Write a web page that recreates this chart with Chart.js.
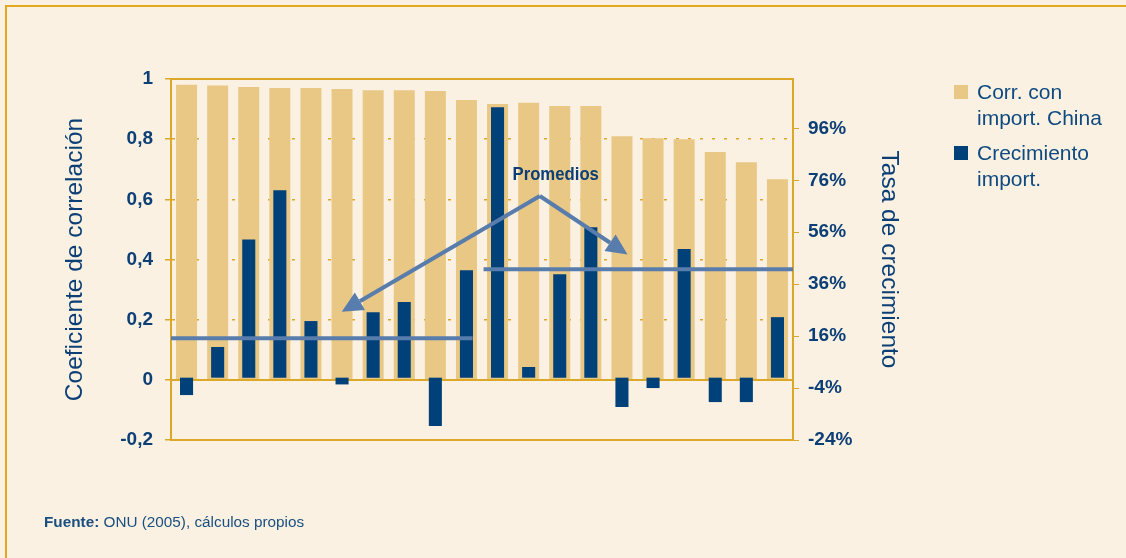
<!DOCTYPE html>
<html>
<head>
<meta charset="utf-8">
<script src="https://cdn.jsdelivr.net/npm/chart.js@4/dist/chart.umd.min.js"></script>
<style>
    html, body { margin: 0; padding: 0; background: #FAF1E2; }
    #wrap { position: relative; width: 1126px; height: 558px; overflow: hidden; font-family: "Liberation Sans", Arial, sans-serif; }
    #frame { position: absolute; left: 5px; top: 5px; right: -5px; bottom: -5px; border-top: 2px solid #E2A91F; border-left: 2px solid #E2A91F; }
    canvas { position: absolute; left: 0; top: 0; }
    #legend { position: absolute; left: 954px; top: 79px; color: #0E4A80; font-size: 21px; line-height: 26px; }
    .item { position: relative; padding-left: 23px; margin-bottom: 9px; }
    .sw { position: absolute; left: 0; top: 6px; width: 14px; height: 14px; }
    #source { position: absolute; left: 44px; top: 513px; font-size: 15.3px; line-height: 17px; color: #1A4E80; }
</style>
</head>
<body>
<div id="wrap">
    <div id="frame"></div>
    <canvas id="chart" width="1126" height="558"></canvas>
    <div id="legend"></div>
    <div id="source"><b>Fuente:</b> ONU (2005), cálculos propios</div>
</div>
<script>
// Data
const categories = ['1', '2', '3', '4', '5', '6', '7', '8', '9', '10', '11', '12', '13', '14', '15', '16', '17', '18', '19', '20'];
const correlacion = [0.981, 0.978, 0.973, 0.970, 0.970, 0.967, 0.963, 0.963, 0.960, 0.930, 0.917, 0.921, 0.910, 0.910, 0.810, 0.803, 0.800, 0.757, 0.723, 0.667];
const crecimiento = [-6.7, 11.8, 53.2, 72.2, 21.8, -2.6, 25.2, 29.1, -18.6, 41.4, 104.1, 4.1, 39.8, 57.9, -11.3, -4.0, 49.5, -9.4, -9.4, 23.3];
const leftTicks = [-0.2, 0, 0.2, 0.4, 0.6, 0.8, 1];
const rightTicks = [-24, -4, 16, 36, 56, 76, 96];
const promedios = [15.2, 41.7];                     // growth averages (right axis, %)
const promedioRanges = [[-0.5, 9.2], [9.55, 19.5]]; // category span of each average line
const seriesLabels = [['Corr. con', 'import. China'], ['Crecimiento', 'import.']];

const gold = '#DCA82A';
const navy = '#0B3F76';
const tan = '#E9C784';
const darkBlue = '#00417A';
const steel = '#587CAC';

Chart.defaults.font.family = '"Liberation Sans", Arial, sans-serif';

// x position for a fractional category index
function xAt(chart, idx) {
    const x = chart.scales.x;
    const p0 = x.getPixelForValue(0), p1 = x.getPixelForValue(1);
    return p0 + idx * (p1 - p0);
}

function arrow(ctx, x1, y1, x2, y2) {
    const ang = Math.atan2(y2 - y1, x2 - x1);
    const head = 21, half = 10;
    const bx = x2 - head * Math.cos(ang), by = y2 - head * Math.sin(ang);
    ctx.beginPath();
    ctx.moveTo(x1, y1);
    ctx.lineTo(bx, by);
    ctx.stroke();
    ctx.beginPath();
    ctx.moveTo(x2, y2);
    ctx.lineTo(bx + half * Math.sin(ang), by - half * Math.cos(ang));
    ctx.lineTo(bx - half * Math.sin(ang), by + half * Math.cos(ang));
    ctx.closePath();
    ctx.fill();
}

const framePlugin = {
    id: 'frame',
    beforeDatasetsDraw(chart) {
        const ctx = chart.ctx, a = chart.chartArea;
        const y0 = Math.round(chart.scales.y.getPixelForValue(0));
        ctx.save();
        ctx.strokeStyle = gold;
        ctx.lineWidth = 2;
        ctx.beginPath();
        ctx.moveTo(a.left, y0);
        ctx.lineTo(a.right, y0);
        ctx.stroke();
        ctx.restore();
    },
    afterDatasetsDraw(chart) {
        const ctx = chart.ctx, a = chart.chartArea;
        const y2 = chart.scales.y2, y = chart.scales.y;
        ctx.save();
        ctx.strokeStyle = gold;
        ctx.lineWidth = 2;
        ctx.strokeRect(a.left, a.top, a.right - a.left, a.bottom - a.top);

        // average lines
        ctx.strokeStyle = steel;
        ctx.fillStyle = steel;
        ctx.lineWidth = 4;
        promedios.forEach((v, i) => {
            const py = y2.getPixelForValue(v);
            ctx.beginPath();
            ctx.moveTo(Math.max(a.left, xAt(chart, promedioRanges[i][0])), py);
            ctx.lineTo(Math.min(a.right, xAt(chart, promedioRanges[i][1])), py);
            ctx.stroke();
        });

        // arrows from the label
        const apx = xAt(chart, 11.36), apy = y.getPixelForValue(0.611);
        arrow(ctx, apx, apy, xAt(chart, 4.99), y.getPixelForValue(0.226));
        arrow(ctx, apx, apy, xAt(chart, 14.18), y.getPixelForValue(0.417));

        // label, slightly condensed like the original
        ctx.fillStyle = navy;
        ctx.font = 'bold 19px "Liberation Sans", Arial, sans-serif';
        ctx.textAlign = 'center';
        ctx.textBaseline = 'middle';
        ctx.translate(xAt(chart, 11.87), y.getPixelForValue(0.683));
        ctx.scale(0.88, 1);
        ctx.fillText('Promedios', 0, 0);
        ctx.restore();
    }
};

const chart = new Chart(document.getElementById('chart'), {
    type: 'bar',
    data: {
        labels: categories,
        datasets: [{
            label: seriesLabels[0].join(' '),
            data: correlacion,
            yAxisID: 'y',
            backgroundColor: tan,
            grouped: false,
            categoryPercentage: 1,
            barPercentage: 0.675,
            order: 2
        }, {
            label: seriesLabels[1].join(' '),
            data: crecimiento,
            yAxisID: 'y2',
            backgroundColor: darkBlue,
            grouped: false,
            categoryPercentage: 1,
            barPercentage: 0.42,
            order: 1
        }]
    },
    options: {
        responsive: false,
        animation: false,
        layout: { padding: { left: 57, right: 219, top: 79, bottom: 118 } },
        plugins: { legend: { display: false }, tooltip: { enabled: false } },
        scales: {
            x: { display: false, offset: true },
            y: {
                position: 'left',
                min: -0.2,
                max: 1,
                afterBuildTicks: s => { s.ticks = leftTicks.map(v => ({ value: v })); },
                afterFit: s => { s.width = 114; },
                ticks: {
                    color: navy,
                    font: { size: 19, weight: 'bold' },
                    padding: 12,
                    callback: v => String(v).replace('.', ',')
                },
                grid: {
                    color: c => (c.tick && c.tick.value > 0.01 && c.tick.value < 0.99) ? gold : 'rgba(0,0,0,0)',
                    tickColor: gold,
                    tickLength: 6,
                    lineWidth: 1.5
                },
                border: { color: gold, width: 2, dash: [3, 9] },
                title: {
                    display: true,
                    text: 'Coeficiente de correlación',
                    color: navy,
                    font: { size: 24.5 },
                    padding: { top: 4, bottom: 4 }
                }
            },
            y2: {
                position: 'right',
                min: -24,
                max: 115,
                afterBuildTicks: s => { s.ticks = rightTicks.map(v => ({ value: v })); },
                afterFit: s => { s.width = 114; },
                ticks: {
                    color: navy,
                    font: { size: 19, weight: 'bold' },
                    padding: 9,
                    callback: v => v + '%'
                },
                grid: { drawOnChartArea: false, tickColor: gold, tickLength: 6 },
                border: { color: gold, width: 2 },
                title: {
                    display: true,
                    text: 'Tasa de crecimiento',
                    color: navy,
                    font: { size: 24.5 },
                    padding: { top: 4, bottom: 4 }
                }
            }
        }
    },
    plugins: [framePlugin]
});

// legend built from the datasets
const legend = document.getElementById('legend');
chart.data.datasets.forEach((ds, i) => {
    const item = document.createElement('div');
    item.className = 'item';
    item.innerHTML = '<span class="sw" style="background:' + ds.backgroundColor + '"></span>' + seriesLabels[i].join('<br>');
    legend.appendChild(item);
});
</script>
</body>
</html>
